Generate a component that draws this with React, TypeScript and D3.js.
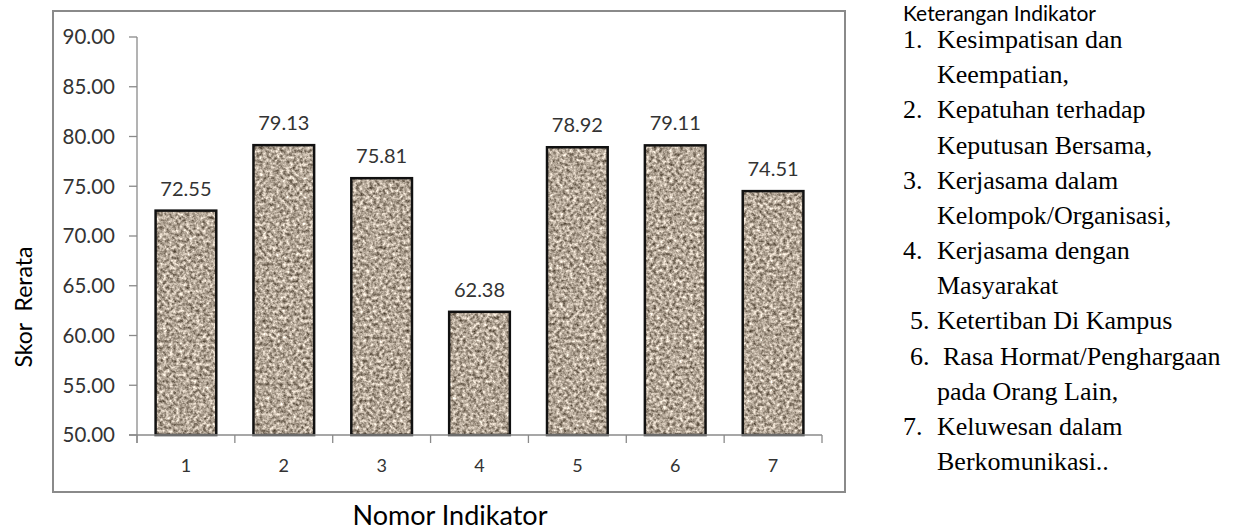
import React from 'react';
import * as d3 from 'd3';

// Chart data
const categories = ['1', '2', '3', '4', '5', '6', '7'];
const scores = [72.55, 79.13, 75.81, 62.38, 78.92, 79.11, 74.51];
const yTicks = [50, 55, 60, 65, 70, 75, 80, 85, 90];

// Legend text on the right (number, line 1, line 2)
const legendNumbers = ['1.', '2.', '3.', '4.', '5.', '6.', '7.'];
const legendLines = [
  ['Kesimpatisan dan', 'Keempatian,'],
  ['Kepatuhan terhadap', 'Keputusan Bersama,'],
  ['Kerjasama dalam', 'Kelompok/Organisasi,'],
  ['Kerjasama dengan', 'Masyarakat'],
  ['Ketertiban Di Kampus'],
  ['Rasa Hormat/Penghargaan', 'pada Orang Lain,'],
  ['Keluwesan dalam', 'Berkomunikasi..'],
];

const W = 1245;
const H = 532;
const sans = 'Lato, "Open Sans", sans-serif';
const serif = '"Liberation Serif", "DejaVu Serif", serif';

export default function App() {
  const x = d3.scaleBand<string>()
    .domain(categories)
    .range([137, 822])
    .paddingInner(0.38)
    .paddingOuter(0.19);

  const y = d3.scaleLinear().domain([50, 90]).range([435, 37]);

  const step = x.step();
  const x0 = 137;
  const boundaries = d3.range(categories.length + 1).map(i => x0 + i * step);

  // legend rows
  const rows: { num?: string; text: string; numX: number; textX: number }[] = [];
  legendLines.forEach((lines, i) => {
    const shifted = i === 4 || i === 5;
    lines.forEach((t, j) => {
      rows.push({
        num: j === 0 ? legendNumbers[i] : undefined,
        text: t,
        numX: shifted ? 910 : 903,
        textX: i === 5 && j === 0 ? 943 : 937,
      });
    });
  });

  return (
    <svg width={W} height={H} style={{ position: 'absolute', left: 0, top: 0, background: '#fff' }}>
      <defs>
        <filter id="granite" x="0" y="0" width="1" height="1" colorInterpolationFilters="sRGB">
          <feTurbulence type="fractalNoise" baseFrequency="0.3" numOctaves="3" seed="7" result="noise" />
          <feColorMatrix
            in="noise"
            type="matrix"
            values="1.1 0 0 0 0.15  1.1 0 0 0 0.1  1.1 0 0 0 0.04  0 0 0 0 1"
            result="tone"
          />
          <feComposite in="tone" in2="SourceGraphic" operator="in" />
        </filter>
      </defs>

      {/* outer frame */}
      <rect x={53} y={11} width={792} height={481} fill="#fff" stroke="#8a8a8a" strokeWidth={2} />

      {/* y axis */}
      <line x1={x0} x2={x0} y1={y(90)} y2={y(50) + 8} stroke="#8a8a8a" strokeWidth={1.3} />
      {yTicks.map(t => (
        <g key={t}>
          <line x1={x0 - 8} x2={x0} y1={y(t)} y2={y(t)} stroke="#8a8a8a" strokeWidth={1.3} />
          <text x={115} y={y(t)} dy="0.36em" textAnchor="end" fontFamily={sans} fontSize={20.5} fill="#333">
            {t.toFixed(2)}
          </text>
        </g>
      ))}

      {/* bars */}
      {categories.map((c, i) => (
        <g key={c}>
          <rect
            x={x(c)}
            y={y(scores[i])}
            width={x.bandwidth()}
            height={y(50) - y(scores[i])}
            fill="#a89b8e"
            filter="url(#granite)"
          />
          <rect
            x={x(c)}
            y={y(scores[i])}
            width={x.bandwidth()}
            height={y(50) - y(scores[i])}
            fill="none"
            stroke="#111"
            strokeWidth={2.5}
          />
          <text
            x={(x(c) ?? 0) + x.bandwidth() / 2}
            y={y(scores[i]) - 15}
            textAnchor="middle"
            fontFamily={sans}
            fontSize={20}
            fill="#333"
          >
            {scores[i].toFixed(2)}
          </text>
          <text
            x={(x(c) ?? 0) + x.bandwidth() / 2}
            y={472}
            textAnchor="middle"
            fontFamily={sans}
            fontSize={18}
            fill="#333"
          >
            {c}
          </text>
        </g>
      ))}

      {/* x axis */}
      <line x1={x0 - 8} x2={822} y1={y(50)} y2={y(50)} stroke="#8a8a8a" strokeWidth={1.3} />
      {boundaries.map((b, i) => (
        <line key={i} x1={b} x2={b} y1={y(50)} y2={y(50) + 8} stroke="#8a8a8a" strokeWidth={1.3} />
      ))}

      {/* axis titles */}
      <text
        transform={`translate(32, 307) rotate(-90)`}
        textAnchor="middle"
        fontFamily={sans}
        fontSize={23}
        fill="#000"
        style={{ whiteSpace: 'pre' }}
      >
        {'Skor  Rerata'}
      </text>
      <text x={450} y={525} textAnchor="middle" fontFamily={sans} fontSize={27} fill="#000">
        Nomor Indikator
      </text>

      {/* legend */}
      <text x={903} y={21} fontFamily={sans} fontSize={21} fill="#000">
        Keterangan Indikator
      </text>
      {rows.map((r, k) => (
        <g key={k}>
          {r.num && (
            <text x={r.numX} y={48 + k * 35.17} fontFamily={serif} fontSize={26} fill="#000">
              {r.num}
            </text>
          )}
          <text x={r.textX} y={48 + k * 35.17} fontFamily={serif} fontSize={26} fill="#000">
            {r.text}
          </text>
        </g>
      ))}
    </svg>
  );
}
